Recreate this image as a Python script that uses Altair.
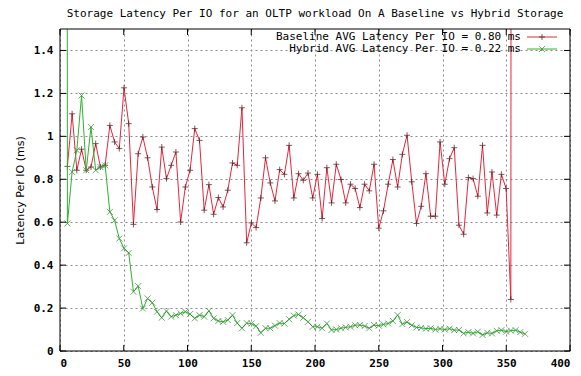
import altair as alt
import pandas as pd

# Sampling grid (minutes): sample k is taken at SAMPLE_START + k * SAMPLE_STEP
SAMPLE_START = 2.1
SAMPLE_STEP = 3.7

# Baseline storage latency per IO (ms), samples 1..96
baseline_ms = [
    0.86, 1.105, 0.842, 0.94, 0.842, 0.857, 0.966, 0.857, 0.865, 1.051,
    0.974, 0.943, 1.226, 1.059, 0.59, 0.919, 0.997, 0.9, 0.764, 0.659,
    0.95, 0.803, 0.865, 0.927, 0.601, 0.764, 0.842, 1.036, 0.981, 0.656,
    0.775, 0.637, 0.715, 0.671, 0.749, 0.876, 0.865, 1.133, 0.504, 0.597,
    0.575, 0.713, 0.9, 0.783, 0.699, 0.845, 0.823, 0.958, 0.713, 0.826,
    0.795, 0.829, 0.713, 0.823, 0.617, 0.854, 0.69, 0.87, 0.799, 0.69,
    0.777, 0.757, 0.668, 0.777, 0.746, 0.87, 0.572, 0.653, 0.777, 0.892,
    0.764, 0.916, 1.005, 0.788, 0.594, 0.674, 0.826, 0.628, 0.628, 0.974,
    0.777, 0.896, 0.947, 0.586, 0.544, 0.808, 0.803, 0.721, 0.958, 0.643,
    0.834, 0.633, 0.823, 0.757, 0.24, 40.0,
]
BASELINE_FIRST_SAMPLE = 1

# Hybrid storage latency per IO (ms), samples 0..98
hybrid_ms = [
    40.0, 0.594, 0.834, 0.935, 1.19, 0.842, 1.043, 0.842, 0.857, 0.865,
    0.648, 0.609, 0.524, 0.478, 0.457, 0.276, 0.302, 0.198, 0.245, 0.225,
    0.183, 0.155, 0.186, 0.16, 0.167, 0.175, 0.183, 0.172, 0.152, 0.167,
    0.16, 0.187, 0.152, 0.14, 0.136, 0.144, 0.167, 0.13, 0.106, 0.13,
    0.128, 0.116, 0.085, 0.106, 0.106, 0.118, 0.13, 0.128, 0.148, 0.165,
    0.17, 0.155, 0.136, 0.113, 0.113, 0.106, 0.128, 0.098, 0.1, 0.106,
    0.11, 0.113, 0.12, 0.121, 0.116, 0.106, 0.121, 0.118, 0.124, 0.128,
    0.14, 0.167, 0.125, 0.135, 0.12, 0.11, 0.108, 0.104, 0.106, 0.1,
    0.104, 0.1, 0.104, 0.097, 0.098, 0.082, 0.088, 0.082, 0.09, 0.075,
    0.085, 0.082, 0.094, 0.097, 0.09, 0.095, 0.097, 0.088, 0.08,
]
HYBRID_FIRST_SAMPLE = 0

x_ticks = [0, 50, 100, 150, 200, 250, 300, 350, 400]
y_ticks = [0, 0.2, 0.4, 0.6, 0.8, 1.0, 1.2, 1.4]

title_text = "Storage Latency Per IO for an OLTP workload On A Baseline vs Hybrid Storage"
x_title = "Time (Min)"
y_title = "Latency Per IO (ms)"
legend_labels = [
    "Baseline AVG Latency Per IO  = 0.80 ms",
    "Hybrid AVG Latency Per IO = 0.22 ms",
]

W, H = 510, 322
MONO = "DejaVu Sans Mono"
RED, RED_MARK = "#e0283c", "#4a1416"
GREEN, GREEN_MARK = "#30b030", "#2f8a2f"
PLUS = "M-1,0L1,0M0,-1L0,1"
CROSS = "M-1,-1L1,1M-1,1L1,-1"


def series_frame(values, first, name):
    return pd.DataFrame({
        "time": [round(SAMPLE_START + SAMPLE_STEP * (first + k), 2) for k in range(len(values))],
        "latency": values,
        "series": name,
    })


df = pd.concat([
    series_frame(baseline_ms, BASELINE_FIRST_SAMPLE, "Baseline"),
    series_frame(hybrid_ms, HYBRID_FIRST_SAMPLE, "Hybrid"),
], ignore_index=True)

x_enc = alt.X(
    "time:Q",
    scale=alt.Scale(domain=[0, 400], nice=False),
    axis=alt.Axis(
        values=x_ticks, grid=True, gridDash=[2, 3], gridColor="#8c8c8c",
        tickSize=0, domain=False, labelPadding=6,
        labelFont=MONO, labelFontSize=11, labelFontWeight="bold", labelColor="black",
        title=x_title, titleFont=MONO, titleFontSize=11, titleFontWeight="bold",
        titleX=W / 2, titleY=H + 22, titleBaseline="top", titleColor="black",
    ),
)
y_enc = alt.Y(
    "latency:Q",
    scale=alt.Scale(domain=[0, 1.5], nice=False),
    axis=alt.Axis(
        values=y_ticks, grid=True, gridDash=[2, 3], gridColor="#8c8c8c",
        tickSize=0, domain=False, labelPadding=7,
        labelExpr="format(datum.value, '~g')",
        labelFont=MONO, labelFontSize=11, labelFontWeight="bold", labelColor="black",
        title=y_title, titleFont="DejaVu Sans", titleFontSize=11, titleFontWeight="normal",
        titleX=-40, titleY=H / 2, titleAngle=270, titleBaseline="middle",
        titleAlign="center", titleColor="black",
    ),
)

base = alt.Chart(df).encode(x=x_enc, y=y_enc)


def series_layers(name, line_color, mark_color, shape):
    sub = base.transform_filter(alt.datum.series == name)
    line = sub.mark_line(clip=True, color=line_color, strokeWidth=1)
    pts = sub.mark_point(clip=True, shape=shape, size=36, filled=False,
                         color=mark_color, strokeWidth=1)
    return [line, pts]


# inward tick marks on all four sides of the frame
xt = alt.Chart(pd.DataFrame({"t": x_ticks}))
yt = alt.Chart(pd.DataFrame({"t": y_ticks}))
tick_style = dict(color="black", strokeWidth=1)
ticks = [
    xt.mark_rule(**tick_style).encode(x="t:Q", y=alt.value(H), y2=alt.value(H - 6)),
    xt.mark_rule(**tick_style).encode(x="t:Q", y=alt.value(0), y2=alt.value(6)),
    yt.mark_rule(**tick_style).encode(y="t:Q", x=alt.value(0), x2=alt.value(6)),
    yt.mark_rule(**tick_style).encode(y="t:Q", x=alt.value(W), x2=alt.value(W - 6)),
]

one = alt.Chart(pd.DataFrame({"k": [0]}))
frame = one.mark_rect(fill=None, stroke="black", strokeWidth=1).encode(
    x=alt.value(0), x2=alt.value(W), y=alt.value(0), y2=alt.value(H)
)

# key: text on the left, sample line with marker on the right
legend_layers = []
key_specs = [
    (legend_labels[0], RED, RED_MARK, PLUS, 8),
    (legend_labels[1], GREEN, GREEN_MARK, CROSS, 20),
]
for label, lc, mc, shp, ky in key_specs:
    src = alt.Chart(pd.DataFrame({"label": [label]}))
    legend_layers.append(
        src.mark_text(align="right", baseline="middle", font=MONO, fontSize=11,
                      color="black").encode(text="label:N", x=alt.value(461), y=alt.value(ky))
    )
    legend_layers.append(
        src.mark_rule(color=lc, strokeWidth=1).encode(
            x=alt.value(467), x2=alt.value(497), y=alt.value(ky))
    )
    legend_layers.append(
        src.mark_point(shape=shp, size=36, filled=False, color=mc, strokeWidth=1).encode(
            x=alt.value(482), y=alt.value(ky))
    )

chart = alt.layer(
    *series_layers("Baseline", RED, RED_MARK, PLUS),
    *series_layers("Hybrid", GREEN, GREEN_MARK, CROSS),
    *ticks,
    frame,
    *legend_layers,
).properties(
    width=W,
    height=H,
    autosize=alt.AutoSizeParams(type="none"),
    padding={"left": 60, "top": 29, "right": 11, "bottom": 25},
    title=alt.TitleParams(
        title_text, font=MONO, fontSize=11, fontWeight="normal", color="black",
        anchor="middle", offset=10,
    ),
    background="white",
).configure_view(stroke=None)

chart.save("out.html", embed_options={"renderer": "svg", "actions": False})
